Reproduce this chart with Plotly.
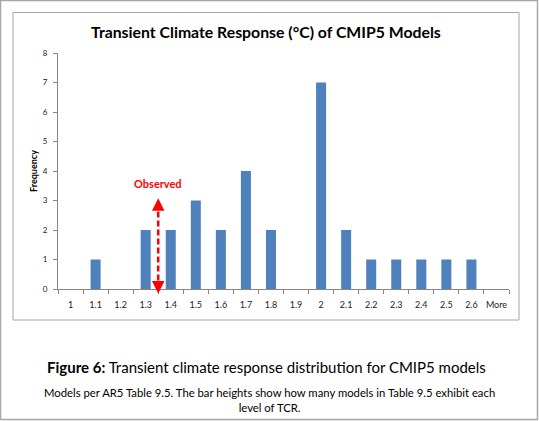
import plotly.graph_objects as go

categories = ["1", "1.1", "1.2", "1.3", "1.4", "1.5", "1.6", "1.7", "1.8", "1.9",
              "2", "2.1", "2.2", "2.3", "2.4", "2.5", "2.6", "More"]
frequency = [0, 1, 0, 2, 2, 3, 2, 4, 2, 0, 7, 2, 1, 1, 1, 1, 1, 0]
y_ticks = [0, 1, 2, 3, 4, 5, 6, 7, 8]
observed_tcr = 1.35
observed_label = "Observed"

# position of observed value on the category axis (between 1.3 and 1.4)
obs_x = categories.index("1.3") + (observed_tcr - 1.3) / 0.1

W, H = 539, 421
ML, MR, MT, MB = 58, 30, 53, 132
PW, PH = W - ML - MR, H - MT - MB

def px(x):
    return (x - ML) / PW

def py(y):
    return (H - MB - y) / PH

fig = go.Figure()
fig.add_trace(go.Bar(
    x=categories, y=frequency,
    marker=dict(color="#4F81BD", line=dict(width=0)),
    width=0.4,
    hoverinfo="x+y",
))

font_main = "Lato, 'Open Sans', sans-serif"

shapes = [
    # outer page border
    dict(type="rect", xref="paper", yref="paper",
         x0=px(0.5), x1=px(W - 1.5), y0=py(0.5), y1=py(H - 1.5),
         line=dict(color="#A6A6A6", width=1.5), fillcolor="rgba(0,0,0,0)", layer="below"),
    # chart border
    dict(type="rect", xref="paper", yref="paper",
         x0=px(13), x1=px(519), y0=py(12.5), y1=py(320),
         line=dict(color="#A6A6A6", width=1), fillcolor="rgba(0,0,0,0)", layer="below"),
    # observed dashed line
    dict(type="line", xref="x", yref="y",
         x0=obs_x, x1=obs_x, y0=-0.02, y1=2.95,
         line=dict(color="#FF0000", width=2.5, dash="6px,3px")),
]

annotations = [
    dict(text="<b>Transient Climate Response (°C) of CMIP5 Models</b>",
         xref="paper", yref="paper", x=px(266), y=py(31), showarrow=False,
         font=dict(family=font_main, size=15.8, color="#000000"),
         xanchor="center", yanchor="middle"),
    dict(text="<b>Frequency</b>", xref="paper", yref="paper",
         x=px(33), y=py(171), textangle=-90, showarrow=False,
         font=dict(family=font_main, size=9, color="#000000"),
         xanchor="center", yanchor="middle"),
    dict(text="<b>" + observed_label + "</b>", xref="x", yref="y",
         x=obs_x, y=3.58, showarrow=False,
         font=dict(family=font_main, size=11, color="#FF0000"),
         xanchor="center", yanchor="middle"),
    # arrow heads
    dict(text="", xref="x", yref="y", x=obs_x, y=3.08, ax=0, ay=8,
         showarrow=True, arrowhead=2, arrowsize=1, arrowwidth=2.5, arrowcolor="#FF0000"),
    dict(text="", xref="x", yref="paper", x=obs_x, y=py(293.5), ax=0, ay=-8,
         showarrow=True, arrowhead=2, arrowsize=1, arrowwidth=2.5, arrowcolor="#FF0000"),
    dict(text="<b>Figure 6:</b> Transient climate response distribution for CMIP5 models",
         xref="paper", yref="paper", x=px(266), y=py(367), showarrow=False,
         font=dict(family=font_main, size=15, color="#000000"),
         xanchor="center", yanchor="middle"),
    dict(text="Models per AR5 Table 9.5. The bar heights show how many models in Table 9.5 exhibit each<br>level of TCR.",
         xref="paper", yref="paper", x=px(269), y=py(400), showarrow=False,
         font=dict(family=font_main, size=11.3, color="#000000"),
         xanchor="center", yanchor="middle", align="center"),
]

fig.update_layout(
    width=W, height=H,
    margin=dict(l=ML, r=MR, t=MT, b=MB, autoexpand=False),
    paper_bgcolor="white", plot_bgcolor="white",
    showlegend=False,
    bargap=0.6,
    shapes=shapes,
    annotations=annotations,
    font=dict(family=font_main, size=9, color="#222222"),
)
fig.update_xaxes(
    type="category", range=[-0.5, len(categories) - 0.5],
    showline=True, linecolor="#868686", linewidth=1,
    ticks="outside", ticklen=4, tickcolor="#868686", tickson="boundaries",
    tickangle=0, ticklabelstandoff=7,
    showgrid=False, zeroline=False,
    tickfont=dict(family=font_main, size=9, color="#222222"),
)
fig.update_yaxes(
    range=[0, 8], tickvals=y_ticks,
    showline=True, linecolor="#868686", linewidth=1,
    ticks="outside", ticklen=4, tickcolor="#868686",
    ticklabelstandoff=4,
    showgrid=False, zeroline=False,
    tickfont=dict(family=font_main, size=8, color="#222222"),
)

fig.write_html("out.html", config={"displayModeBar": False},
               post_script="document.body.style.margin='0';")
